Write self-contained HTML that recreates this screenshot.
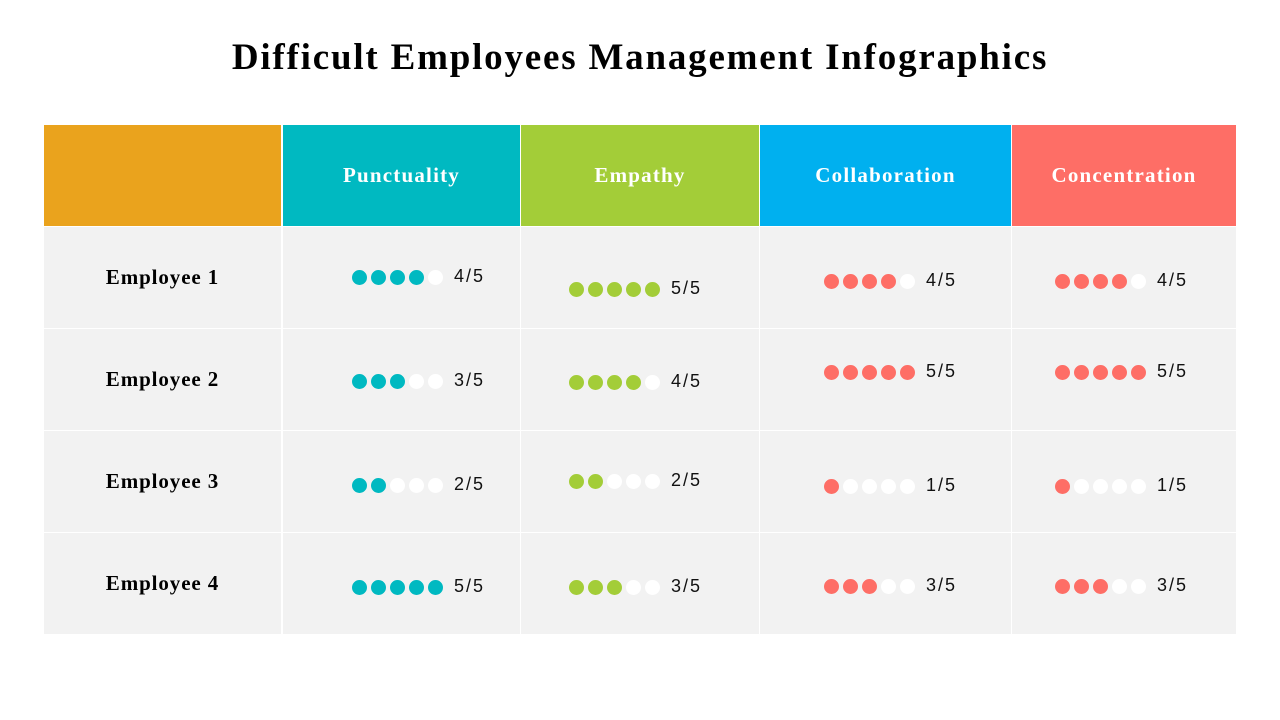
<!DOCTYPE html>
<html><head><style>
body{margin:0;width:1280px;height:720px;background:#fff;position:relative;overflow:hidden;font-family:"Liberation Serif",serif}
.t{position:absolute;left:0;width:1280px;top:36px;text-align:center;font-weight:bold;font-size:37px;letter-spacing:1.8px;color:#000}
.c{position:absolute;box-sizing:border-box;display:flex;align-items:center;justify-content:center}
.h{color:#fff;font-weight:bold;font-size:21px;letter-spacing:1.2px;top:125px;height:101px}
.b{background:#f2f2f2;height:101px}
.e{font-weight:bold;font-size:21px;letter-spacing:0.9px;color:#000}
.d{position:absolute;width:15px;height:15px;border-radius:50%}
.n{position:absolute;font-family:"Liberation Sans",sans-serif;font-size:18px;letter-spacing:2px;color:#111}
</style></head><body>
<div class="t">Difficult Employees Management Infographics</div>
<div class="c h" style="left:44px;width:237px;background:#eaa31d"></div>
<div class="c h" style="left:283px;width:237px;background:#00b9c1">Punctuality</div>
<div class="c h" style="left:521px;width:238px;background:#a3cd38">Empathy</div>
<div class="c h" style="left:760px;width:251px;background:#00b0ef">Collaboration</div>
<div class="c h" style="left:1012px;width:224px;background:#fe6e66">Concentration</div>
<div id="g"></div>
<script>
var cols=[[44,237],[283,237],[521,238],[760,251],[1012,224]];
var rows=[227,329,431,533];
var h='';
rows.forEach(function(y,i){cols.forEach(function(c,j){h+='<div class="c b'+(j==0?' e':'')+'" style="left:'+c[0]+'px;top:'+y+'px;width:'+c[1]+'px">'+(j==0?'Employee '+(i+1):'')+'</div>';});});
var groups=[
 {x:352,col:'#00b9c1',y:[277,381,485,587],v:[4,3,2,5]},
 {x:569,col:'#a3cd38',y:[289,382,481,587],v:[5,4,2,3]},
 {x:824,col:'#fe6e66',y:[281,372,486,586],v:[4,5,1,3]},
 {x:1055,col:'#fe6e66',y:[281,372,486,586],v:[4,5,1,3]}];
groups.forEach(function(g){for(var r=0;r<4;r++){for(var k=0;k<5;k++){h+='<div class="d" style="left:'+(g.x+k*19)+'px;top:'+(g.y[r]-7)+'px;background:'+(k<g.v[r]?g.col:'#fff')+'"></div>';}
h+='<div class="n" style="left:'+(g.x+102)+'px;top:'+(g.y[r]-11)+'px">'+g.v[r]+'/5</div>';}});
document.getElementById('g').innerHTML=h;
</script>
</body></html>
